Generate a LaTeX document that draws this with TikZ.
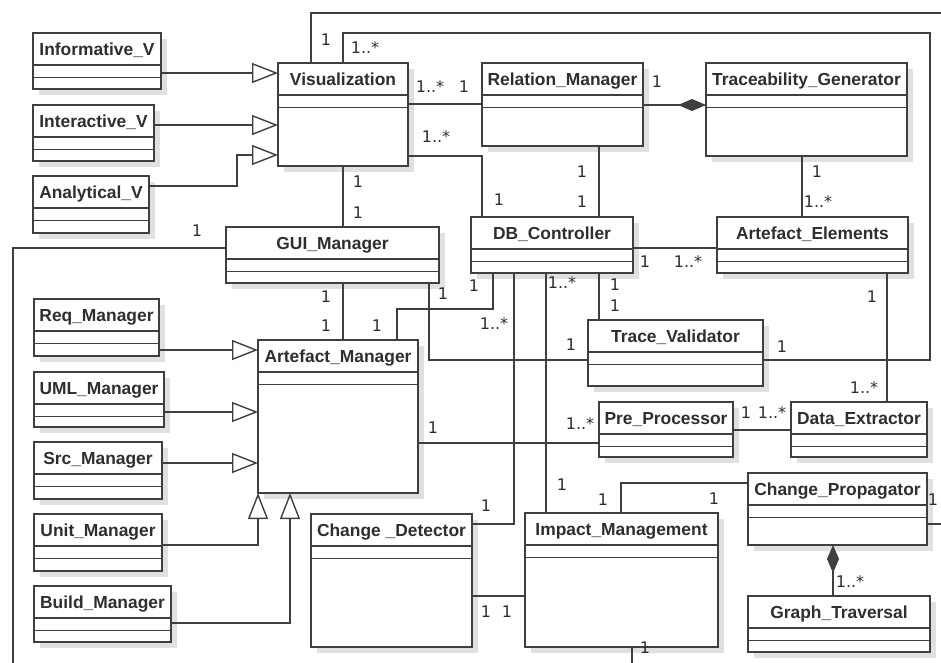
\documentclass[tikz,border=0pt]{standalone}
\usepackage{fontspec}
\setmainfont{Liberation Sans}
\newfontfamily\multfont{DejaVu Sans}
\usetikzlibrary{arrows.meta,fit,shadows}
\definecolor{umlline}{HTML}{3F3F3F}
\definecolor{umltext}{HTML}{2E2E2E}
\tikzset{
  classbox/.style={draw=umlline, line width=1.6pt, fill=white, inner sep=0pt, outer sep=0pt,
                   drop shadow={shadow xshift=6pt, shadow yshift=-6pt, fill=black, opacity=0.12}},
  classname/.style={font=\fontsize{17.4}{20}\selectfont\bfseries, text=umltext, anchor=base,
                    inner sep=0pt},
  sepline/.style={draw=umlline, line width=1.4pt},
  mult/.style={font=\multfont\fontsize{16}{18}\selectfont, text=umltext, inner sep=0pt},
  assoc/.style={draw=umlline, line width=1.4pt},
  gen/.style={assoc, -{Triangle[length=26pt, width=20pt, fill=white]}},
  comp/.style={assoc, -{Diamond[length=28pt, width=12pt, fill=umlline]}},
}
\newcommand{\umlclass}[6]{%
  \node[classbox, fit={(#2,#3) (#4,#5)}] (#1) {};
  \node[classname] (#1-name) at ([yshift=-22pt]#1.north) {#6};
  \draw[sepline] ([yshift=-32pt]#1.north west) -- ([yshift=-32pt]#1.north east);
  \draw[sepline] ([yshift=-44.5pt]#1.north west) -- ([yshift=-44.5pt]#1.north east);
}
\begin{document}
\begin{tikzpicture}[x=1pt, y=-1pt]
\useasboundingbox (0,0) rectangle (941,662);
\clip (0,0) rectangle (941,662);
\fill[white] (0,0) rectangle (941,662);

\umlclass{info}{33}{33}{161}{89}{Informative\_V}
\umlclass{inter}{33}{105}{154}{161}{Interactive\_V}
\umlclass{ana}{33}{176}{149}{233}{Analytical\_V}
\umlclass{vis}{278}{63}{408}{166}{Visualization}
\umlclass{rel}{482}{63}{643}{146}{Relation\_Manager}
\umlclass{tg}{706}{63}{907}{156}{Traceability\_Generator}
\umlclass{gui}{226}{227}{439}{283}{GUI\_Manager}
\umlclass{db}{471}{217}{633}{273}{DB\_Controller}
\umlclass{ae}{717}{217}{908}{273}{Artefact\_Elements}
\umlclass{req}{34}{299}{159}{356}{Req\_Manager}
\umlclass{uml}{34}{372}{164}{427}{UML\_Manager}
\umlclass{src}{34}{442}{162}{499}{Src\_Manager}
\umlclass{unit}{34}{514}{162}{571}{Unit\_Manager}
\umlclass{build}{34}{586}{171}{642}{Build\_Manager}
\umlclass{am}{258}{340}{418}{493}{Artefact\_Manager}
\umlclass{tv}{588}{320}{763}{386}{Trace\_Validator}
\umlclass{pp}{599}{402}{733}{457}{Pre\_Processor}
\umlclass{de}{791}{402}{927}{457}{Data\_Extractor}
\umlclass{cd}{311}{514}{472}{647}{Change \_Detector}
\umlclass{im}{525}{513}{718}{647}{Impact\_Management}
\umlclass{cp}{748}{473}{927}{545}{Change\_Propagator}
\umlclass{gt}{748}{596}{930}{652}{Graph\_Traversal}

\draw[gen] (info.east |- 0,73) -- (vis.west |- 0,73);
\draw[gen] (inter.east |- 0,125) -- (vis.west |- 0,125);
\draw[gen] (ana.east |- 0,186) -- (237,186) -- (237,155) -- (vis.west |- 0,155);
\draw[gen] (req.east |- 0,350) -- (am.west |- 0,350);
\draw[gen] (uml.east |- 0,412) -- (am.west |- 0,412);
\draw[gen] (src.east |- 0,463) -- (am.west |- 0,463);
\draw[gen] (unit.east |- 0,545) -| (am.south west);
\draw[gen] (build.east |- 0,623) -| (am.south -| 290,0);

\draw[assoc] (vis.north -| 311,0) -- (311,13) -- (950,13) -- (950,524) -- (cp.east |- 0,524);
\draw[assoc] (vis.north -| 343,0) -- (343,33) -- (930,33) |- (tv.east |- 0,360);
\draw[assoc] (vis.east |- 0,104) -- (rel.west |- 0,104);
\draw[assoc] (vis.east |- 0,156) -| (db.north -| 482,0);
\draw[assoc] (vis.south -| 343,0) -- (gui.north -| 343,0);
\draw[comp] (rel.east |- 0,105) -- (tg.west |- 0,105);
\draw[assoc] (rel.south -| 599,0) -- (db.north -| 599,0);
\draw[assoc] (tg.south -| 802,0) -- (ae.north -| 802,0);
\draw[assoc] (db.east |- 0,248) -- (ae.west |- 0,248);
\draw[assoc] (ae.south -| 887,0) -- (de.north -| 887,0);
\draw[assoc] (gui.west |- 0,248) -| (13,670) -| (im.south -| 632,0);
\draw[assoc] (gui.south -| 343,0) -- (am.north -| 343,0);
\draw[assoc] (gui.south -| 429,0) |- (tv.west |- 0,360);
\draw[assoc] (am.north -| 397,0) -- (397,309) -| (db.south -| 493,0);
\draw[assoc] (db.south -| 514,0) |- (cd.east |- 0,524);
\draw[assoc] (db.south -| 546,0) -- (im.north -| 546,0);
\draw[assoc] (db.south -| 599,0) -- (tv.north -| 599,0);
\draw[assoc] (am.east |- 0,443) -- (pp.west |- 0,443);
\draw[assoc] (pp.east |- 0,430) -- (de.west |- 0,430);
\draw[assoc] (cd.east |- 0,596) -- (im.west |- 0,596);
\draw[assoc] (im.north -| 621,0) |- (cp.west |- 0,483);
\draw[comp] (gt.north -| 833,0) -- (cp.south -| 833,0);

\foreach \x/\y/\t [count=\i] in {326/40/1, 365/48/{1..*}, 430/87/{1..*}, 464/87/1,
    436/137/{1..*}, 499/200/1, 358/182/1, 358/213/1, 582/172/1, 582/202/1, 657/82/1,
    817/172/1, 818/202/{1..*}, 197/231/1, 326/297/1, 326/326/1, 377/326/1, 474/286/1,
    443/294/1, 571/345/1, 494/324/{1..*}, 562/283/{1..*}, 615/285/1, 615/306/1,
    433/428/1, 580/424/{1..*}, 645/262/1, 688/262/{1..*}, 872/297/1, 864/388/{1..*},
    782/347/1, 746/413/1, 772/413/{1..*}, 486/506/1, 486/612/1, 507/612/1, 562/485/1,
    603/500/1, 714/499/1, 850/582/{1..*}, 933/500/1, 645/648/1}
  \node[mult] (m\i) at (\x,\y) {\t};
\end{tikzpicture}
\end{document}
